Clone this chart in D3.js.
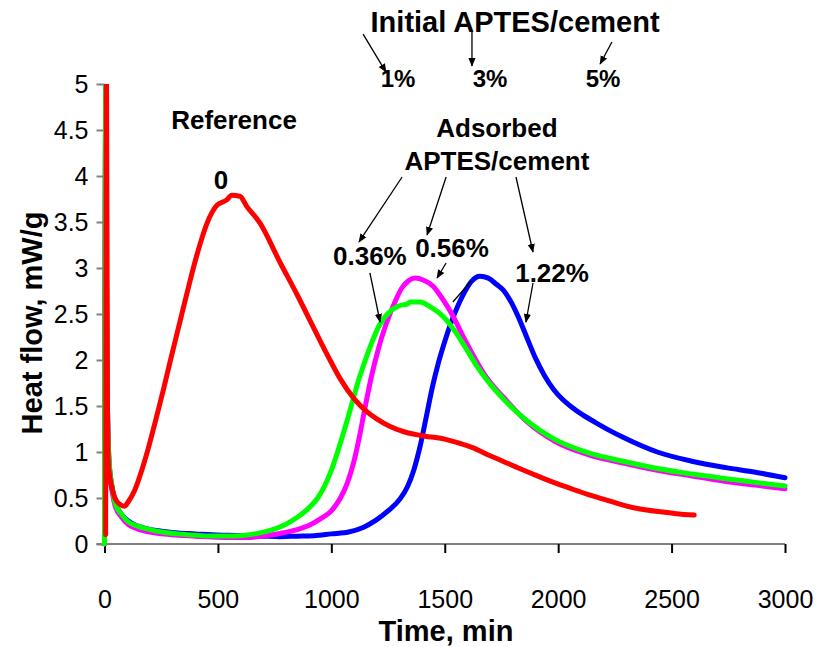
<!DOCTYPE html>
<html>
<head>
<meta charset="utf-8">
<script src="https://cdn.jsdelivr.net/npm/d3@7"></script>
<style>
  html, body { margin: 0; padding: 0; background: #fff; }
  svg { display: block; font-family: "Liberation Sans", Arial, sans-serif; }
</style>
</head>
<body>
<svg id="chart" width="818" height="647"></svg>
<script>
// Isothermal calorimetry: heat flow (mW/g) against time (min)
const xTicks = [0, 500, 1000, 1500, 2000, 2500, 3000];
const yTicks = [0, 0.5, 1, 1.5, 2, 2.5, 3, 3.5, 4, 4.5, 5];

// Reference paste (no APTES)
const reference = [
  [5,0.1],[9,5],[13,1.6],[17,0.88],[32,0.62],[46,0.5],[68,0.43],[87,0.41],[105,0.46],
  [134,0.59],[164,0.80],[193,1.04],[223,1.32],[260,1.68],[289,1.98],[333,2.42],[370,2.79],
  [406,3.13],[451,3.48],[495,3.68],[539,3.74],[561,3.79],[597,3.78],[627,3.67],[685,3.49],
  [774,3.06],[847,2.72],[920,2.36],[994,2.0],[1038,1.8],[1100,1.58],[1151,1.45],[1200,1.36],
  [1257,1.28],[1320,1.22],[1393,1.18],[1499,1.14],[1560,1.10],[1620,1.05],[1700,0.96],
  [1756,0.90],[1830,0.82],[1908,0.74],[1980,0.67],[2059,0.60],[2130,0.54],[2210,0.48],
  [2290,0.42],[2362,0.38],[2450,0.35],[2520,0.33],[2600,0.315]
];

// 0.36 % adsorbed APTES (1 % initial)
const aptes036 = [
  [0,0],[6,5],[10,2.0],[20,0.9],[35,0.6],[46,0.45],[76,0.32],[105,0.24],[140,0.2],[179,0.17],
  [252,0.13],[325,0.11],[400,0.095],[473,0.087],[575,0.087],[620,0.095],[663,0.11],[710,0.135],
  [752,0.165],[800,0.215],[850,0.29],[900,0.39],[940,0.5],[970,0.63],[1000,0.8],[1030,1.02],
  [1060,1.26],[1090,1.52],[1120,1.78],[1150,2.0],[1180,2.2],[1210,2.37],[1240,2.48],
  [1270,2.55],[1300,2.59],[1335,2.61],[1350,2.63],[1391,2.63],[1435,2.58],[1494,2.47],
  [1540,2.33],[1590,2.14],[1640,1.94],[1690,1.77],[1757,1.58],[1862,1.34],[1983,1.14],
  [2135,0.99],[2286,0.90],[2437,0.82],[2589,0.76],[2740,0.71],[2870,0.67],[3000,0.63]
];

// 0.56 % adsorbed APTES (3 % initial)
const aptes056 = [
  [0,0],[6,5],[10,1.9],[20,0.85],[35,0.55],[46,0.42],[76,0.29],[105,0.21],[140,0.17],
  [179,0.14],[252,0.11],[325,0.095],[400,0.085],[473,0.075],[550,0.07],[619,0.07],[680,0.08],
  [722,0.095],[773,0.115],[840,0.15],[900,0.2],[950,0.27],[1000,0.36],[1040,0.5],[1070,0.66],
  [1100,0.9],[1125,1.18],[1150,1.5],[1175,1.8],[1205,2.1],[1240,2.38],[1275,2.6],[1310,2.78],
  [1340,2.86],[1370,2.89],[1405,2.87],[1450,2.80],[1494,2.65],[1538,2.47],[1582,2.25],
  [1630,2.03],[1673,1.85],[1720,1.70],[1757,1.60],[1862,1.33],[1983,1.12],[2135,0.97],
  [2286,0.88],[2437,0.80],[2589,0.74],[2740,0.68],[2870,0.64],[3000,0.60]
];

// 1.22 % adsorbed APTES (5 % initial)
const aptes122 = [
  [0,0],[6,5],[10,2.0],[20,0.9],[35,0.6],[46,0.46],[76,0.32],[105,0.25],[140,0.2],[179,0.17],
  [252,0.14],[325,0.12],[400,0.11],[473,0.1],[546,0.095],[620,0.09],[700,0.085],[773,0.08],
  [850,0.085],[924,0.09],[1000,0.11],[1076,0.13],[1140,0.18],[1197,0.26],[1250,0.36],
  [1303,0.49],[1335,0.62],[1363,0.8],[1393,1.08],[1420,1.4],[1445,1.7],[1470,1.95],
  [1500,2.2],[1530,2.42],[1560,2.6],[1590,2.75],[1620,2.86],[1655,2.91],[1692,2.89],
  [1729,2.82],[1758,2.76],[1788,2.65],[1824,2.47],[1861,2.25],[1900,2.02],[1940,1.83],
  [1980,1.68],[2020,1.57],[2059,1.49],[2110,1.40],[2165,1.32],[2230,1.23],[2286,1.16],
  [2437,1.0],[2589,0.9],[2740,0.83],[2870,0.78],[3000,0.72]
];

const series = [
  { name: "1.22%", color: "#0000ff", values: aptes122 },
  { name: "0.56%", color: "#ff00ff", values: aptes056 },
  { name: "0.36%", color: "#00ff00", values: aptes036 },
  { name: "0", color: "#ff0000", values: reference }
];

// Text labels, placed in data units (time, heat flow)
const labels = [
  { text: "Initial APTES/cement", x: 1810, y: 5.565, size: 29 },
  { text: "1%", x: 1294, y: 4.967, size: 24 },
  { text: "3%", x: 1700, y: 4.967, size: 24 },
  { text: "5%", x: 2198, y: 4.967, size: 24 },
  { text: "Reference", x: 571, y: 4.511, size: 26 },
  { text: "0", x: 514, y: 3.859, size: 26 },
  { text: "Adsorbed", x: 1730, y: 4.424, size: 26 },
  { text: "APTES/cement", x: 1730, y: 4.065, size: 26 },
  { text: "0.36%", x: 1170, y: 3.033, size: 26 },
  { text: "0.56%", x: 1532, y: 3.120, size: 26 },
  { text: "1.22%", x: 1973, y: 2.848, size: 26 }
];

// Pointer arrows [x1, y1, x2, y2, hasHead]
const arrows = [
  [1140, 5.543, 1241, 5.130, true],
  [1620, 5.587, 1620, 5.196, true],
  [2237, 5.457, 2185, 5.217, true],
  [1312, 3.989, 1122, 3.283, true],
  [1506, 3.989, 1422, 3.359, true],
  [1814, 3.989, 1889, 3.174, true],
  [1170, 2.946, 1215, 2.413, true],
  [1506, 3.054, 1466, 2.891, true],
  [1889, 2.837, 1858, 2.413, true],
  [1536, 2.630, 1616, 2.859, false]
];

const svg = d3.select("#chart");
const x = d3.scaleLinear().domain([0, 3000]).range([104.5, 785]);
const y = d3.scaleLinear().domain([0, 5]).range([544, 84]);

svg.append("defs").append("clipPath").attr("id", "plot-clip")
  .append("rect").attr("x", 100).attr("y", y(5)).attr("width", 700).attr("height", y(0) - y(5) + 10);

svg.append("defs").append("marker")
  .attr("id", "head").attr("viewBox", "0 0 10 10").attr("refX", 9).attr("refY", 5)
  .attr("markerWidth", 9).attr("markerHeight", 9).attr("markerUnits", "userSpaceOnUse")
  .attr("orient", "auto")
  .append("path").attr("d", "M0,1 L10,5 L0,9 Z").attr("fill", "#000");

// Axes
const xAxis = svg.append("g").attr("transform", `translate(0,${y(0)})`)
  .call(d3.axisBottom(x).tickValues(xTicks).tickSize(9).tickSizeOuter(0).tickPadding(37)
    .tickFormat(d3.format("d")));
xAxis.select(".domain").attr("stroke", "#808080").attr("stroke-width", 2)
  .attr("d", `M${x(0) - 8},0H${x(3000)}`);
xAxis.selectAll(".tick line").attr("stroke", "#000").attr("stroke-width", 2);
xAxis.selectAll(".tick text").attr("font-size", 25).attr("fill", "#000")
  .attr("font-family", "Liberation Sans, Arial, sans-serif");

const yAxis = svg.append("g").attr("transform", `translate(${x(0)},0)`)
  .call(d3.axisLeft(y).tickValues(yTicks).tickSize(8).tickSizeOuter(0).tickPadding(8)
    .tickFormat(d3.format("")));
yAxis.select(".domain").attr("stroke", "#808080").attr("stroke-width", 2);
yAxis.selectAll(".tick line").attr("stroke", "#808080").attr("stroke-width", 2);
yAxis.selectAll(".tick text").attr("font-size", 25).attr("fill", "#000")
  .attr("font-family", "Liberation Sans, Arial, sans-serif");

// Curves
const line = d3.line().x(d => x(d[0])).y(d => y(d[1])).curve(d3.curveMonotoneX);
svg.append("g").attr("clip-path", "url(#plot-clip)")
  .selectAll("path").data(series).join("path")
  .attr("d", d => line(d.values))
  .attr("fill", "none")
  .attr("stroke", d => d.color)
  .attr("stroke-width", 5)
  .attr("stroke-linejoin", "round")
  .attr("stroke-linecap", "round");

// Axis titles
svg.append("text").attr("x", 446).attr("y", 641).attr("text-anchor", "middle")
  .attr("font-size", 29).attr("font-weight", "bold").text("Time, min");
svg.append("text").attr("transform", "translate(42,323) rotate(-90)").attr("text-anchor", "middle")
  .attr("font-size", 29).attr("font-weight", "bold").text("Heat flow, mW/g");

// Annotations
svg.append("g").selectAll("text").data(labels).join("text")
  .attr("x", d => x(d.x)).attr("y", d => y(d.y))
  .attr("text-anchor", "middle").attr("font-weight", "bold")
  .attr("font-size", d => d.size).text(d => d.text);

svg.append("g").selectAll("line").data(arrows).join("line")
  .attr("x1", d => x(d[0])).attr("y1", d => y(d[1]))
  .attr("x2", d => x(d[2])).attr("y2", d => y(d[3]))
  .attr("stroke", "#000").attr("stroke-width", 1.3)
  .attr("marker-end", d => d[4] ? "url(#head)" : null);
</script>
</body>
</html>
